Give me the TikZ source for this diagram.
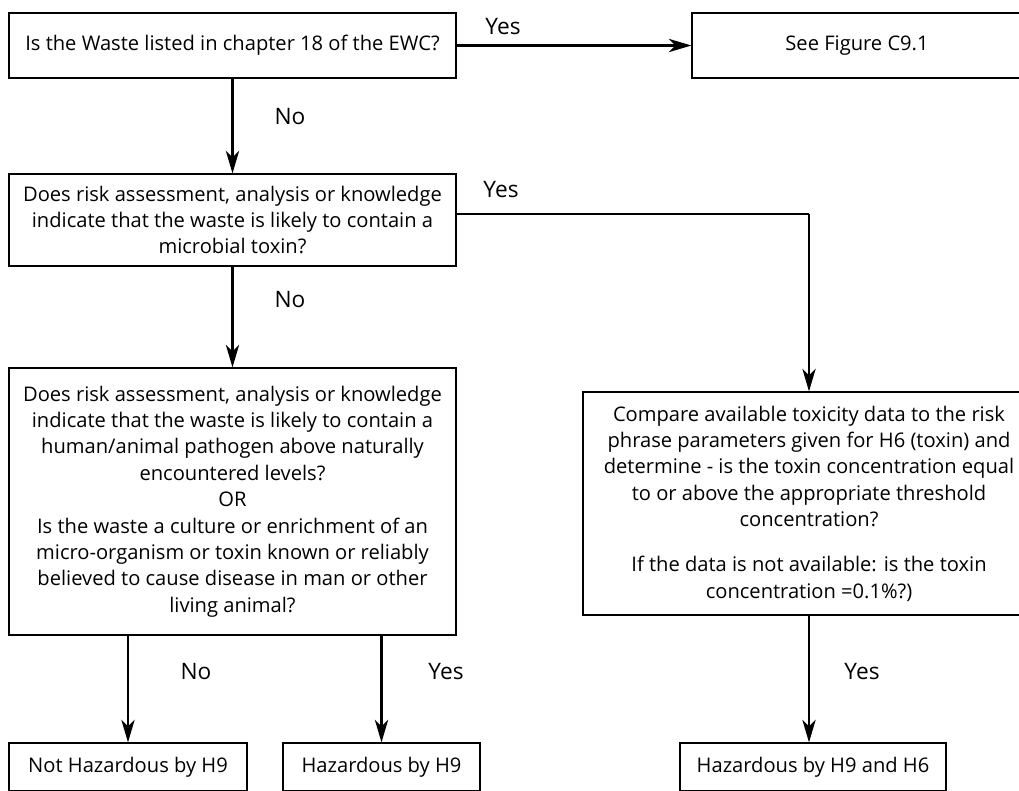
\documentclass[tikz,border=0pt]{standalone}
\usepackage{fontspec}
\setmainfont{Open Sans}
\usetikzlibrary{arrows.meta}
\begin{document}
\begin{tikzpicture}[x=0.75pt,y=-0.75pt,
  box/.style={draw, line width=0.9pt, align=center, inner sep=0pt,
    font=\fontsize{15.1}{19.8}\selectfont},
  arr/.style={line width=1.6pt, -{Stealth[length=17pt,width=10pt,inset=5pt]}},
  lin/.style={line width=1.6pt},
  lbl/.style={font=\fontsize{17}{20}\selectfont, inner sep=0pt}]
\useasboundingbox (0,0) rectangle (1019,790);
\node[box, minimum width=335.25pt, minimum height=48.75pt] (q1) at (232.5,45.5)
  {Is the Waste listed in chapter 18 of the EWC?};
\node[box, minimum width=247.5pt, minimum height=48.75pt] (fig) at (857,45.5)
  {See Figure C9.1};
\node[box, minimum width=335.25pt, minimum height=69pt] (q2) at (232.5,220)
  {Does risk assessment, analysis or knowledge\\indicate that the waste is likely to contain a\\microbial toxin?};
\node[box, minimum width=335.25pt, minimum height=200.25pt] (q3) at (232.5,501.5)
  {Does risk assessment, analysis or knowledge\\indicate that the waste is likely to contain a\\human/animal pathogen above naturally\\encountered levels?\\OR\\Is the waste a culture or enrichment of an\\micro-organism or toxin known or reliably\\believed to cause disease in man or other\\living animal?};
\node[box, minimum width=339pt, minimum height=167.25pt] (tox) at (809,503.5)
  {Compare available toxicity data to the risk\\phrase parameters given for H6 (toxin) and\\determine - is the toxin concentration equal\\to or above the appropriate threshold\\concentration?\\[14pt]If the data is not available: is the toxin\\concentration =0.1\%?)};
\node[box, minimum width=178.5pt, minimum height=36pt] (r1) at (128,767) {Not Hazardous by H9};
\node[box, minimum width=147.75pt, minimum height=36pt] (r2) at (381.5,767) {Hazardous by H9};
\node[box, minimum width=199.5pt, minimum height=36pt] (r3) at (813,767) {Hazardous by H9 and H6};

\coordinate (c1) at (809,214);
\draw[arr] (q1.east) -- (fig.west);
\draw[arr] (q1.south) -- (q2.north);
\draw[lin] (q2.east |- c1) -- (c1);
\draw[arr] (c1) -- (c1 |- tox.north);
\draw[arr] (q2.south) -- (q3.north);
\draw[arr] (r1.north |- q3.south) -- (r1.north);
\draw[arr] (r2.north |- q3.south) -- (r2.north);
\draw[arr] (tox.south) -- (tox.south |- r3.north);

\node[lbl] (l1) at (503,27) {Yes};
\node[lbl] (l2) at (290,117) {No};
\node[lbl] (l3) at (501,190) {Yes};
\node[lbl] (l4) at (290,300) {No};
\node[lbl] (l5) at (196,672) {No};
\node[lbl] (l6) at (446,672) {Yes};
\node[lbl] (l7) at (862,672) {Yes};
\end{tikzpicture}
\end{document}
